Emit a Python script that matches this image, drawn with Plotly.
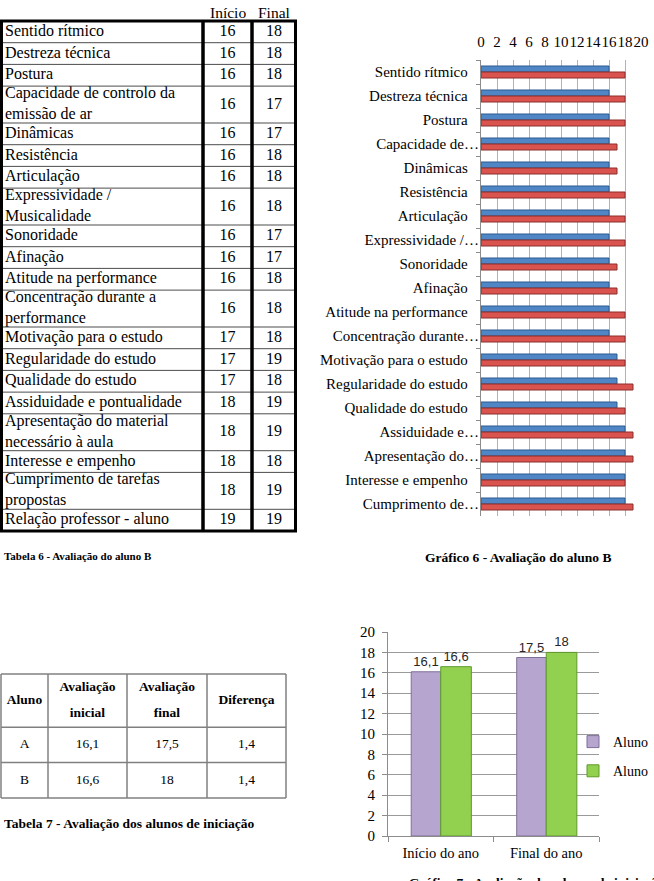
import plotly.graph_objects as go

W, H = 654, 881
SERIF = "Liberation Serif"
SANS = "Liberation Sans"

# ---------------- data ----------------
t6_criteria = [
    "Sentido rítmico", "Destreza técnica", "Postura",
    "Capacidade de controlo da<br>emissão de ar", "Dinâmicas", "Resistência",
    "Articulação", "Expressividade /<br>Musicalidade", "Sonoridade", "Afinação",
    "Atitude na performance", "Concentração durante a<br>performance",
    "Motivação para o estudo", "Regularidade do estudo", "Qualidade do estudo",
    "Assiduidade e pontualidade", "Apresentação do material<br>necessário à aula",
    "Interesse e empenho", "Cumprimento de tarefas<br>propostas",
    "Relação professor - aluno",
]
t6_inicio = [16, 16, 16, 16, 16, 16, 16, 16, 16, 16, 16, 16, 17, 17, 17, 18, 18, 18, 18, 19]
t6_final = [18, 18, 18, 17, 17, 18, 18, 18, 17, 17, 18, 18, 18, 19, 18, 19, 19, 18, 19, 19]
t6_col_headers = ["Início", "Final"]
t6_caption = "Tabela 6 - Avaliação do aluno B"

g6_categories = [
    "Sentido rítmico", "Destreza técnica", "Postura", "Capacidade de…",
    "Dinâmicas", "Resistência", "Articulação", "Expressividade /…",
    "Sonoridade", "Afinação", "Atitude na performance", "Concentração durante…",
    "Motivação para o estudo", "Regularidade do estudo", "Qualidade do estudo",
    "Assiduidade e…", "Apresentação do…", "Interesse e empenho", "Cumprimento de…",
]
g6_inicio = [16, 16, 16, 16, 16, 16, 16, 16, 16, 16, 16, 16, 17, 17, 17, 18, 18, 18, 18]
g6_final = [18, 18, 18, 17, 17, 18, 18, 18, 17, 17, 18, 18, 18, 19, 18, 19, 19, 18, 19]
g6_caption = "Gráfico 6 - Avaliação do aluno B"

t7_headers = ["Aluno", "Avaliação inicial", "Avaliação final", "Diferença"]
t7_alunos = ["A", "B"]
t7_inicial = [16.1, 16.6]
t7_final = [17.5, 18]
t7_diferenca = [1.4, 1.4]
t7_caption = "Tabela 7 - Avaliação dos alunos de iniciação"

g7_categories = ["Início do ano", "Final do ano"]
g7_series = ["Aluno", "Aluno"]
g7_aluno_a = [16.1, 17.5]
g7_aluno_b = [16.6, 18]
g7_caption = "Gráfico 7 - Avaliação dos alunos de iniciação"


def fmt(v):
    return f"{v:g}".replace(".", ",")


def X(p):
    return p / W


def Y(p):
    return 1 - p / H


fig = go.Figure()
shapes = []
annotations = []

# ---------------- Gráfico 6 (horizontal bars) ----------------
g6_disp = [c if c.endswith("…") else c + "\u00a0\u00a0\u00a0" for c in g6_categories]
fig.add_trace(go.Bar(
    y=g6_disp, x=g6_inicio, orientation="h", name="Início", showlegend=False,
    marker=dict(color="#4F86C6", line=dict(color="#2F5A8F", width=1)),
    xaxis="x", yaxis="y", hoverinfo="skip"))
fig.add_trace(go.Bar(
    y=g6_disp, x=g6_final, orientation="h", name="Final", showlegend=False,
    marker=dict(color="#D9534F", line=dict(color="#8E2F2C", width=1)),
    xaxis="x", yaxis="y", hoverinfo="skip"))

# ---------------- Gráfico 7 (vertical bars) ----------------
fig.add_trace(go.Bar(
    x=g7_categories, y=g7_aluno_a, name=g7_series[0], legendgroup="a",
    marker=dict(color="#B5A5CF", line=dict(color="#7F6F96", width=1)),
    text=[fmt(v) for v in g7_aluno_a], textposition="outside", cliponaxis=False,
    textfont=dict(family=SANS, size=13, color="#262626"),
    width=0.28, offset=-0.28, xaxis="x2", yaxis="y2", hoverinfo="skip"))
fig.add_trace(go.Bar(
    x=g7_categories, y=g7_aluno_b, name=g7_series[1], legendgroup="b",
    marker=dict(color="#92D050", line=dict(color="#5E9A2C", width=1)),
    text=[fmt(v) for v in g7_aluno_b], textposition="outside", cliponaxis=False,
    textfont=dict(family=SANS, size=13, color="#262626"),
    width=0.29, offset=0.0, xaxis="x2", yaxis="y2", hoverinfo="skip"))

# ---------------- Tabela 6 ----------------
t6_cols = [0, 203, 252, 296]
row_units = [1.7 if "<br>" in c else 1.0 for c in t6_criteria]
t6_total = sum(row_units)
t6_top, t6_bot = 21, 531
scale6 = (t6_bot - t6_top) / t6_total
pad6 = 2 / scale6
bounds = [0.0]
for u in row_units:
    bounds.append(bounds[-1] + u)
centers = [(bounds[i] + bounds[i + 1]) / 2 for i in range(len(row_units))]

fig.add_trace(go.Scatter(
    x=[t6_cols[0] + 5] * len(t6_criteria), y=centers, text=t6_criteria,
    mode="text", textposition="middle right", cliponaxis=False,
    textfont=dict(family=SERIF, size=16, color="black"),
    xaxis="x3", yaxis="y3", showlegend=False, hoverinfo="skip"))
for ci, vals in ((1, t6_inicio), (2, t6_final)):
    cx = (t6_cols[ci] + t6_cols[ci + 1]) / 2
    fig.add_trace(go.Scatter(
        x=[cx] * len(vals), y=centers, text=[str(v) for v in vals],
        mode="text", textposition="middle center", cliponaxis=False,
        textfont=dict(family=SERIF, size=16, color="black"),
        xaxis="x3", yaxis="y3", showlegend=False, hoverinfo="skip"))
    annotations.append(dict(
        x=cx, y=Y(12), xref="x3", yref="paper", xanchor="center", yanchor="middle",
        text=t6_col_headers[ci - 1],
        showarrow=False, font=dict(family=SERIF, size=15.5, color="black")))

for b in bounds[1:-1]:
    shapes.append(dict(type="line", xref="x3", yref="y3", x0=t6_cols[0], x1=t6_cols[-1],
                       y0=b, y1=b, line=dict(color="#4d4d4d", width=1)))
for cx in t6_cols[1:-1]:
    shapes.append(dict(type="line", xref="x3", yref="y3", x0=cx, x1=cx,
                       y0=0, y1=t6_total, line=dict(color="black", width=3.5)))
shapes.append(dict(type="rect", xref="x3", yref="y3", x0=1.5, x1=t6_cols[-1] - 0.5,
                   y0=0, y1=t6_total, line=dict(color="black", width=3)))

# ---------------- Tabela 7 ----------------
t7_cols = [1, 48, 127, 207, 286]
t7_units = [1.5, 1.0, 1.0]
t7_total = sum(t7_units)
t7_top, t7_bot = 674, 798
scale7 = (t7_bot - t7_top) / t7_total
pad7 = 2 / scale7
t7_bounds = [0.0]
for u in t7_units:
    t7_bounds.append(t7_bounds[-1] + u)
t7_centers = [(t7_bounds[i] + t7_bounds[i + 1]) / 2 for i in range(len(t7_units))]
col_centers7 = [(t7_cols[i] + t7_cols[i + 1]) / 2 for i in range(len(t7_cols) - 1)]

hx, hy, ht = [], [], []
line_gap = 26 / scale7
for ci, hdr in enumerate(t7_headers):
    words = hdr.split(" ")
    n = len(words)
    for k, w in enumerate(words):
        hx.append(col_centers7[ci])
        hy.append(t7_centers[0] + (k - (n - 1) / 2) * line_gap)
        ht.append("<b>" + w + "</b>")
fig.add_trace(go.Scatter(
    x=hx, y=hy, text=ht, mode="text", textposition="middle center", cliponaxis=False,
    textfont=dict(family=SERIF, size=13.5, color="black"),
    xaxis="x4", yaxis="y4", showlegend=False, hoverinfo="skip"))

body_cols = [t7_alunos, [fmt(v) for v in t7_inicial], [fmt(v) for v in t7_final],
             [fmt(v) for v in t7_diferenca]]
for ci, col in enumerate(body_cols):
    fig.add_trace(go.Scatter(
        x=[col_centers7[ci]] * len(col), y=t7_centers[1:], text=col,
        mode="text", textposition="middle center", cliponaxis=False,
        textfont=dict(family=SERIF, size=13.5, color="black"),
        xaxis="x4", yaxis="y4", showlegend=False, hoverinfo="skip"))

for b in t7_bounds:
    shapes.append(dict(type="line", xref="x4", yref="y4", x0=t7_cols[0], x1=t7_cols[-1],
                       y0=b, y1=b, line=dict(color="#808080", width=1.5)))
for cx in t7_cols:
    shapes.append(dict(type="line", xref="x4", yref="y4", x0=cx, x1=cx,
                       y0=0, y1=t7_total, line=dict(color="#808080", width=1.5)))

# ---------------- captions ----------------
cap_font = dict(family=SERIF, color="black")
annotations += [
    dict(x=X(2), y=Y(556), xref="paper", yref="paper", xanchor="left", yanchor="middle",
         showarrow=False, text="<b>" + t6_caption + "</b>", font=dict(size=11, **cap_font)),
    dict(x=X(518), y=Y(557), xref="paper", yref="paper", xanchor="center", yanchor="middle",
         showarrow=False, text="<b>" + g6_caption + "</b>", font=dict(size=13.5, **cap_font)),
    dict(x=X(2), y=Y(823), xref="paper", yref="paper", xanchor="left", yanchor="middle",
         showarrow=False, text="<b>" + t7_caption + "</b>", font=dict(size=13.5, **cap_font)),
    dict(x=X(537), y=Y(882), xref="paper", yref="paper", xanchor="center", yanchor="middle",
         showarrow=False, text="<b>" + g7_caption + "</b>", font=dict(size=13.5, **cap_font)),
]

hidden = dict(visible=False, showgrid=False, zeroline=False, automargin=False)

fig.update_layout(
    template="none",
    width=W, height=H, autosize=False,
    margin=dict(l=0, r=0, t=0, b=0, pad=0, autoexpand=False),
    paper_bgcolor="white", plot_bgcolor="rgba(0,0,0,0)",
    font=dict(family=SERIF, color="black"),
    separators=",.",
    barmode="group", bargap=0.5, bargroupgap=0,
    showlegend=True,
    legend=dict(x=X(573), y=Y(726), xanchor="left", yanchor="top",
                font=dict(family=SERIF, size=14, color="black"),
                bgcolor="rgba(0,0,0,0)", borderwidth=0, tracegroupgap=8, itemwidth=30),
    xaxis=dict(domain=[X(481), X(641)], anchor="y", side="top", range=[0, 20], dtick=2,
               showgrid=True, gridcolor="#b3b3b3", gridwidth=1, zeroline=False,
               showline=False, ticks="", tickangle=0, ticklabelstandoff=9, automargin=False,
               tickfont=dict(family=SERIF, size=15, color="black")),
    yaxis=dict(domain=[Y(516), Y(60)], anchor="x", autorange="reversed", type="category",
               showgrid=False, showline=True, linecolor="#8c8c8c", linewidth=1,
               ticks="outside", tickson="boundaries", ticklen=4, tickcolor="#8c8c8c",
               ticklabelstandoff=-2, automargin=False,
               tickfont=dict(family=SERIF, size=15, color="black")),
    xaxis2=dict(domain=[X(388), X(599)], anchor="y2", type="category",
                showline=True, linecolor="#8c8c8c", linewidth=1, showgrid=False,
                ticks="outside", tickson="boundaries", ticklen=5, tickcolor="#8c8c8c",
                ticklabelstandoff=4, automargin=False,
                tickfont=dict(family=SERIF, size=14.5, color="black")),
    yaxis2=dict(domain=[Y(836), Y(632)], anchor="x2", range=[0, 20], dtick=2,
                showgrid=True, gridcolor="#9a9a9a", gridwidth=1, zeroline=False,
                showline=True, linecolor="#8c8c8c", linewidth=1,
                ticks="outside", ticklen=5, tickcolor="#8c8c8c", ticklabelstandoff=4,
                automargin=False,
                tickfont=dict(family=SERIF, size=15, color="black")),
    xaxis3=dict(domain=[0, X(298)], anchor="y3", range=[0, 298], **hidden),
    yaxis3=dict(domain=[Y(t6_bot + 2), Y(t6_top - 2)], anchor="x3",
                range=[t6_total + pad6, -pad6], **hidden),
    xaxis4=dict(domain=[0, X(288)], anchor="y4", range=[0, 288], **hidden),
    yaxis4=dict(domain=[Y(t7_bot + 2), Y(t7_top - 2)], anchor="x4",
                range=[t7_total + pad7, -pad7], **hidden),
    shapes=shapes,
    annotations=annotations,
)

fig.write_html("out.html", config={"displayModeBar": False},
               post_script="document.body.style.margin='0';document.body.style.padding='0';")
